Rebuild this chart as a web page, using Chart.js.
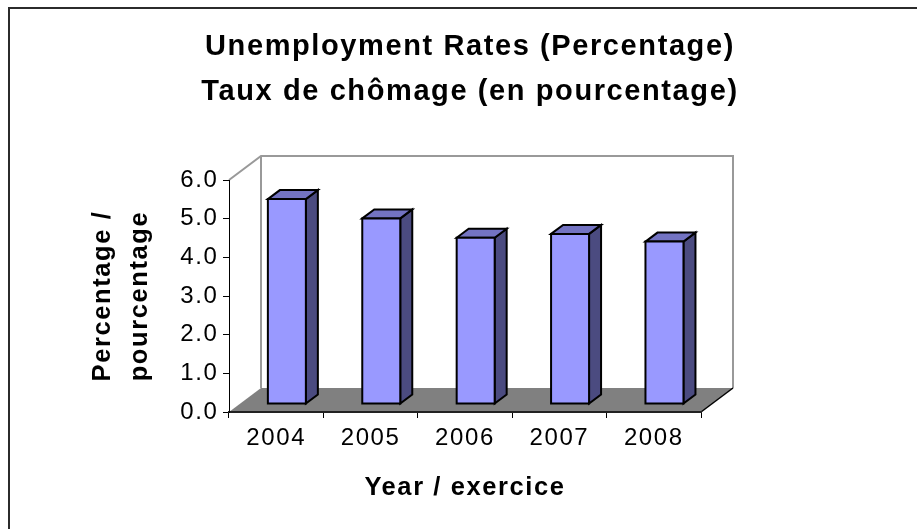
<!DOCTYPE html>
<html><head><meta charset="utf-8">
<script src="https://cdn.jsdelivr.net/npm/chart.js@4"></script>
<style>html,body{margin:0;padding:0;background:#fff;}</style>
</head><body>
<canvas id="c" width="917" height="529"></canvas>
<script>
const categories = ['2004', '2005', '2006', '2007', '2008'];
const unemploymentRates = [5.3, 4.8, 4.3, 4.4, 4.2];
const yTickValues = [0, 1, 2, 3, 4, 5, 6];
const chartTitle = ['Unemployment Rates (Percentage)', 'Taux de chômage (en pourcentage)'];
const yAxisTitle = ['Percentage /', 'pourcentage'];
const xAxisTitle = 'Year / exercice';

const FONT = "'Liberation Sans', Arial, sans-serif";
const DEPTH = {dx: 32, dy: -24};
const BAR_FRONT = 1 / 3;
const BAR_DEPTH = 0.375;

function poly(ctx, pts, fill) {
  ctx.beginPath();
  ctx.moveTo(pts[0][0], pts[0][1]);
  for (let i = 1; i < pts.length; i++) ctx.lineTo(pts[i][0], pts[i][1]);
  ctx.closePath();
  ctx.fillStyle = fill;
  ctx.fill();
  ctx.stroke();
}

const scene3d = {
  id: 'scene3d',
  beforeDraw(chart) {
    const ctx = chart.ctx, a = chart.chartArea;
    ctx.save();
    ctx.fillStyle = '#fff';
    ctx.fillRect(0, 0, chart.width, chart.height);
    ctx.strokeStyle = '#2b2b2b';
    ctx.lineWidth = 2;
    ctx.strokeRect(9, 8, chart.width + 20, chart.height + 20);
    const L = a.left, R = a.right, T = a.top, B = a.bottom, dx = DEPTH.dx, dy = DEPTH.dy;
    ctx.fillStyle = '#808080';
    ctx.beginPath();
    ctx.moveTo(L, B); ctx.lineTo(R, B); ctx.lineTo(R + dx, B + dy); ctx.lineTo(L + dx, B + dy);
    ctx.closePath(); ctx.fill();
    ctx.strokeStyle = '#999';
    ctx.lineWidth = 2;
    ctx.beginPath();
    ctx.moveTo(L, T); ctx.lineTo(L + dx, T + dy); ctx.lineTo(R + dx, T + dy); ctx.lineTo(R + dx, B + dy);
    ctx.moveTo(L + dx, T + dy); ctx.lineTo(L + dx, B + dy);
    ctx.stroke();
    ctx.strokeStyle = '#000';
    ctx.lineWidth = 1.5;
    ctx.beginPath(); ctx.moveTo(R, B); ctx.lineTo(R + dx, B + dy); ctx.stroke();
    ctx.restore();
    ctx.letterSpacing = '1.6px';
  },
  beforeDatasetsDraw(chart) {
    chart.ctx.letterSpacing = '0.4px';
  },
  afterDatasetsDraw(chart) {
    const ctx = chart.ctx;
    const meta = chart.getDatasetMeta(0);
    const fx = DEPTH.dx * BAR_FRONT, fy = DEPTH.dy * BAR_FRONT;
    const bx = DEPTH.dx * BAR_DEPTH, by = DEPTH.dy * BAR_DEPTH;
    ctx.save();
    ctx.lineWidth = 2;
    ctx.strokeStyle = '#000';
    ctx.lineJoin = 'miter';
    meta.data.forEach(el => {
      const p = el.getProps(['x', 'y', 'base', 'width'], true);
      const l = p.x - p.width / 2 + fx, r = p.x + p.width / 2 + fx, t = p.y + fy, b = p.base + fy;
      poly(ctx, [[r, t], [r + bx, t + by], [r + bx, b + by], [r, b]], '#4b4b80');
      poly(ctx, [[l, t], [l + bx, t + by], [r + bx, t + by], [r, t]], '#7373c2');
      poly(ctx, [[l, t], [r, t], [r, b], [l, b]], '#9999ff');
    });
    ctx.restore();
  },
  afterDraw(chart) {
    chart.ctx.letterSpacing = '0px';
  }
};

new Chart(document.getElementById('c'), {
  type: 'bar',
  data: {
    labels: categories,
    datasets: [{
      data: unemploymentRates,
      backgroundColor: 'rgba(0,0,0,0)',
      borderWidth: 0,
      barPercentage: 0.4025,
      categoryPercentage: 1
    }]
  },
  options: {
    responsive: false,
    animation: false,
    events: [],
    devicePixelRatio: 1,
    layout: {padding: {left: 23, right: 0, top: 0, bottom: 0}},
    plugins: {
      legend: {display: false},
      tooltip: {enabled: false},
      title: {
        display: true,
        text: chartTitle,
        color: '#000',
        font: {family: FONT, size: 29, weight: 'bold', lineHeight: 1.552},
        padding: {top: 24.5, bottom: 65.5}
      }
    },
    scales: {
      x: {
        z: 1,
        grid: {display: true, drawOnChartArea: false, drawTicks: true, tickLength: 6, color: '#000', offset: true},
        border: {display: true, color: '#222', width: 2},
        ticks: {color: '#000', font: {family: FONT, size: 24, lineHeight: 1.2}, padding: 5.6, maxRotation: 0},
        title: {display: true, text: xAxisTitle, color: '#000', font: {family: FONT, size: 25.5, weight: 'bold', lineHeight: 1.2}, padding: {top: 0, bottom: 25.7}},
        afterFit(s) { s.height = 117; }
      },
      y: {
        z: 1,
        min: yTickValues[0],
        max: yTickValues[yTickValues.length - 1],
        grid: {display: true, drawOnChartArea: false, drawTicks: true, tickLength: 6, color: '#000'},
        border: {display: true, color: '#000', width: 1},
        ticks: {stepSize: 1, color: '#000', font: {family: FONT, size: 24}, padding: 4.6, callback: v => Number(v).toFixed(1)},
        title: {display: true, text: yAxisTitle, color: '#000', font: {family: FONT, size: 25.5, weight: 'bold', lineHeight: 1.45}, padding: {top: 61.5, bottom: 0}},
        afterFit(s) { s.width = 206; }
      },
      yR: {
        type: 'linear',
        position: 'right',
        display: true,
        grid: {display: false},
        border: {display: false},
        ticks: {display: false},
        afterFit(s) { s.width = 216; }
      }
    }
  },
  plugins: [scene3d]
});
</script>
</body></html>
